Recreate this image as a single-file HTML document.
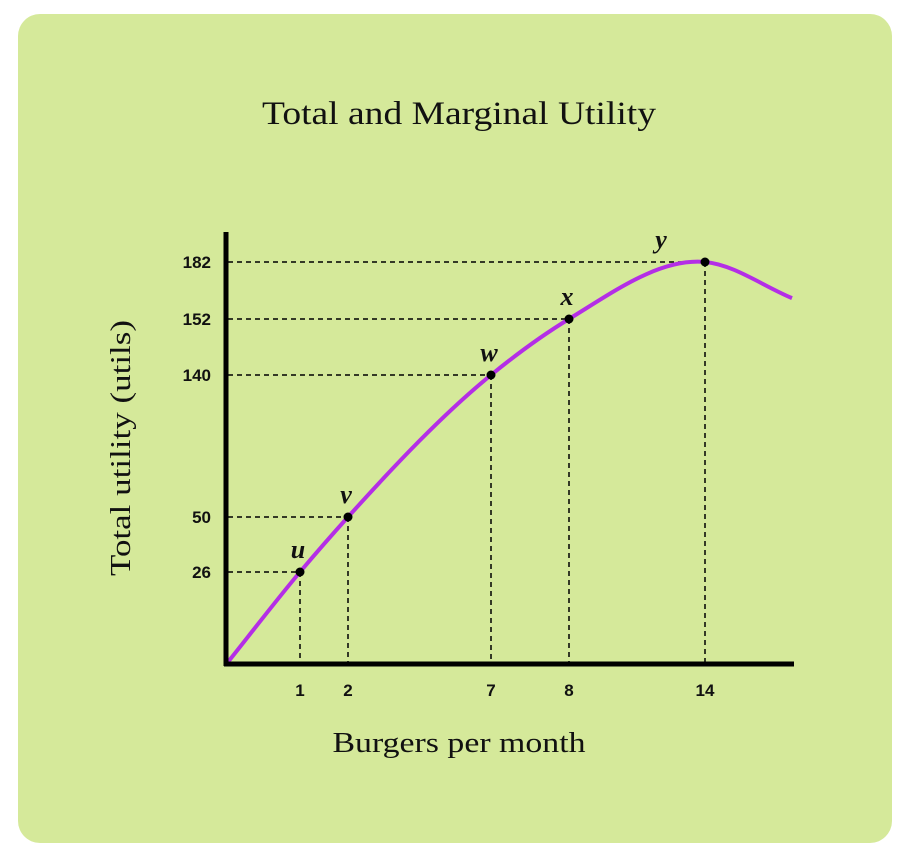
<!DOCTYPE html>
<html><head><meta charset="utf-8">
<style>
html,body{margin:0;padding:0;background:#fff;}
svg{display:block;}
</style></head>
<body>
<svg id="chart" width="910" height="861" viewBox="0 0 910 861">
  <rect x="18" y="14" width="874" height="829" rx="22" fill="#d5e99a"/>
  <text x="459" y="124" text-anchor="middle" font-family="Liberation Serif, serif" font-size="33" fill="#111" textLength="394" lengthAdjust="spacingAndGlyphs">Total and Marginal Utility</text>
  <text transform="translate(130,448) rotate(-90)" text-anchor="middle" font-family="Liberation Serif, serif" font-size="29" fill="#111" textLength="256" lengthAdjust="spacingAndGlyphs">Total utility (utils)</text>
  <text x="459" y="752" text-anchor="middle" font-family="Liberation Serif, serif" font-size="29" fill="#111" textLength="253" lengthAdjust="spacingAndGlyphs">Burgers per month</text>
  <g id="guides"></g>
  <path id="curve" fill="none" stroke="#b42ee6" stroke-width="4"/>
  <line x1="226" y1="232" x2="226" y2="666" stroke="#000" stroke-width="5"/>
  <line x1="224" y1="664" x2="794" y2="664" stroke="#000" stroke-width="5"/>
  <g id="marks"></g>
</svg>
<script>
const quantities = [0, 1, 2, 7, 8, 14, 16];
const utilities = [0, 26, 50, 140, 152, 182, 163];
const pointLabels = ["", "u", "v", "w", "x", "y", ""];
const xTicks = [1, 2, 7, 8, 14];
const yTicks = [26, 50, 140, 152, 182];

// schematic (non-linear) axis scales: anchors of domain -> pixel
const xScaleDomain = [0, 1, 2, 7, 8, 14, 16];
const xScaleRange = [228, 300, 348, 491, 569, 705, 792];
const yScaleDomain = [0, 26, 50, 140, 152, 182, 200];
const yScaleRange = [662, 572, 517, 375, 319, 262, 228];

function piecewise(dom, rng) {
  return function (v) {
    for (let i = 0; i < dom.length - 1; i++) {
      if (v <= dom[i + 1] || i === dom.length - 2) {
        const t = (v - dom[i]) / (dom[i + 1] - dom[i]);
        return rng[i] + t * (rng[i + 1] - rng[i]);
      }
    }
  };
}
const xs = piecewise(xScaleDomain, xScaleRange);
const ys = piecewise(yScaleDomain, yScaleRange);
const NS = "http://www.w3.org/2000/svg";
function mk(tag, attrs, parent) {
  const e = document.createElementNS(NS, tag);
  for (const k in attrs) e.setAttribute(k, attrs[k]);
  parent.appendChild(e);
  return e;
}

// curve (monotone-x cubic in pixel space)
const pts = quantities.map((q, i) => [xs(q), ys(utilities[i])]);
const n = pts.length;
const sl = [];
for (let i = 0; i < n - 1; i++) sl.push((pts[i + 1][1] - pts[i][1]) / (pts[i + 1][0] - pts[i][0]));
const tg = [];
for (let i = 0; i < n; i++) {
  if (i === 0) tg.push(sl[0]);
  else if (i === n - 1) tg.push(sl[n - 2]);
  else {
    const h0 = pts[i][0] - pts[i - 1][0], h1 = pts[i + 1][0] - pts[i][0];
    tg.push((sl[i - 1] * h1 + sl[i] * h0) / (h0 + h1));
  }
}
let d = "M" + pts[0][0] + "," + pts[0][1];
for (let i = 0; i < n - 1; i++) {
  const h = pts[i + 1][0] - pts[i][0];
  const c1 = [pts[i][0] + h / 3, pts[i][1] + tg[i] * h / 3];
  const c2 = [pts[i + 1][0] - h / 3, pts[i + 1][1] - tg[i + 1] * h / 3];
  d += " C" + c1 + " " + c2 + " " + pts[i + 1];
}
document.getElementById("curve").setAttribute("d", d);

const guides = document.getElementById("guides");
const marks = document.getElementById("marks");
for (let i = 0; i < quantities.length; i++) {
  if (!pointLabels[i]) continue;
  const x = xs(quantities[i]), y = ys(utilities[i]);
  const h = mk("line", {x1: 228, y1: y, x2: x, y2: y, stroke: "#000", "stroke-width": 1.5, "stroke-dasharray": "5,4"}, guides);
  
  
  const v = mk("line", {x1: x, y1: y, x2: x, y2: 662, stroke: "#000", "stroke-width": 1.5, "stroke-dasharray": "5,4"}, guides);
  
  
  const c = mk("circle", {cx: x, cy: y, r: 4.5, fill: "#000"}, marks);
  
  
  const lx = pointLabels[i] === "y" ? x - 44 : x - 2;
  const t = mk("text", {x: lx, y: y - 14, "text-anchor": "middle", "font-family": "Liberation Serif, serif", "font-style": "italic", "font-weight": "bold", "font-size": 26, fill: "#111"}, marks);
  t.textContent = pointLabels[i];
  
  
}
xTicks.forEach(v => {
  const t = mk("text", {x: xs(v), y: 696, "text-anchor": "middle", "font-family": "Liberation Sans, sans-serif", "font-weight": "bold", "font-size": 17, fill: "#111"}, marks);
  t.textContent = v;
  
  
});
yTicks.forEach(v => {
  const t = mk("text", {x: 211, y: ys(v) + 6, "text-anchor": "end", "font-family": "Liberation Sans, sans-serif", "font-weight": "bold", "font-size": 17, fill: "#111"}, marks);
  t.textContent = v;
  
  
});
</script>
</body></html>
